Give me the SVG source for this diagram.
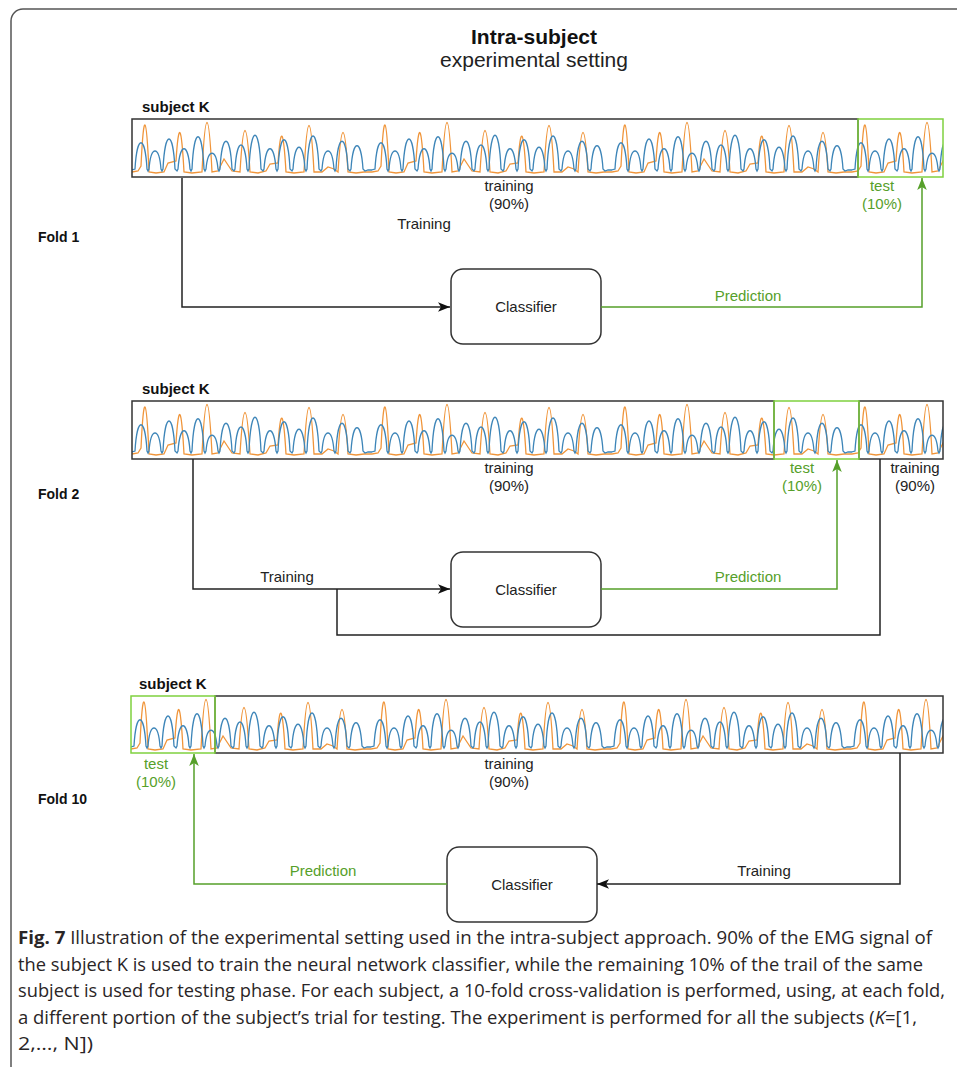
<svg xmlns="http://www.w3.org/2000/svg" width="957" height="1067" viewBox="0 0 957 1067">
<style>
.lbl{font-family:"Liberation Sans",Arial,sans-serif;font-size:15px;fill:#222;text-anchor:middle}
.g{fill:#56a02a}
.bold{font-family:"Liberation Sans",Arial,sans-serif;font-size:15px;font-weight:bold;fill:#111}
.fold{font-family:"Liberation Sans",Arial,sans-serif;font-size:14px;font-weight:bold;fill:#111}
.strip{stroke:#333;stroke-width:1.5;fill:none}
.test{stroke:#7fd13f;stroke-width:1.5;fill:none}
.cls{fill:#fff;stroke:#333;stroke-width:1.5}
.k{fill:none;stroke:#222;stroke-width:1.5}
.gl{fill:none;stroke:#56a02a;stroke-width:1.5}
.cap{font-family:"Open Sans","Noto Sans",sans-serif;font-size:17.5px;fill:#2a2526}
</style>
<defs>
<pattern id="emg" patternUnits="userSpaceOnUse" x="0" y="0" width="240" height="58">
<path d="M0,53 L6,52 L9,47 Q13,-38 17,53 L24,54 L32,53 L36,44 L44,42 Q48,-20 52,53 L60,54 L70,53 Q75,-46 80,53 L86,52 L92,40 L96,46 L100,52 L108,53 Q113,-30 118,53 L126,54 L134,52 L138,45 L146,44 Q150,-14 154,53 L162,54 L172,53 Q177,-40 182,53 L190,53 L196,48 L202,50 L206,53 Q211,-26 216,53 L224,54 L232,53 L240,53" fill="none" stroke="#f0953a" stroke-width="1.3"/>
<path d="M0,51 L3,50 C5,15 13,15 15,50 L16,52 L17,50 C19,26 27,26 29,50 L30,52 L31,50 C33,10 41,10 43,50 L45,52 L46,50 C48,23 56,23 58,50 L59,52 L60,50 C62,7 70,7 72,50 L73,52 L74,50 C76,29 84,29 86,50 L87,52 L88,50 C90,13 98,13 100,50 L102,52 L103,50 C105,18 113,18 115,50 L116,52 L117,50 C119,5 127,5 129,50 L131,52 L132,50 C134,23 142,23 144,50 L145,52 L146,50 C148,11 156,11 158,50 L160,52 L161,50 C163,21 171,21 173,50 L174,52 L175,50 C177,6 185,6 187,50 L189,52 L190,50 C192,26 200,26 202,50 L203,52 L204,50 C206,13 214,13 216,50 L218,52 L219,50 C221,19 229,19 231,50 L233,52 L236,51 L240,51" fill="none" stroke="#3d85b8" stroke-width="1.3"/>
</pattern>
<marker id="ak" viewBox="0 0 10 8" refX="10" refY="4" markerWidth="12" markerHeight="10" markerUnits="userSpaceOnUse" orient="auto"><path d="M0,0 L10,4 L0,8 L2.5,4 Z" fill="#111"/></marker>
<marker id="ag" viewBox="0 0 10 8" refX="10" refY="4" markerWidth="12" markerHeight="10" markerUnits="userSpaceOnUse" orient="auto"><path d="M0,0 L10,4 L0,8 L2.5,4 Z" fill="#56a02a"/></marker>
</defs>
<rect x="0" y="0" width="957" height="1067" fill="#fff"/>
<rect id="frame" x="11" y="9" width="980" height="1100" rx="12" fill="none" stroke="#555" stroke-width="1.5"/>

<g id="title">
<text x="534" y="44" text-anchor="middle" font-family="Liberation Sans,Arial,sans-serif" font-size="21" font-weight="bold" fill="#111">Intra-subject</text>
<text x="534" y="67" text-anchor="middle" font-family="Liberation Sans,Arial,sans-serif" font-size="21" fill="#222">experimental setting</text>
</g>

<!-- Fold 1 -->
<g id="fold1-strip">
<text class="bold" x="142" y="112">subject K</text>
<g transform="translate(132,119)"><rect x="0" y="0" width="811" height="58" fill="url(#emg)"/></g>
<rect class="strip" x="132" y="119" width="726" height="58"/>
<rect class="test" x="858" y="119" width="85" height="58"/>
<text class="lbl" x="509" y="191">training</text>
<text class="lbl" x="509" y="209">(90%)</text>
<text class="lbl g" x="882" y="191">test</text>
<text class="lbl g" x="882" y="209">(10%)</text>
<text class="fold" x="38" y="242">Fold 1</text>
</g>
<g id="fold1-classifier">
<rect class="cls" x="451" y="269" width="150" height="75" rx="12"/>
<text class="lbl" x="526" y="312">Classifier</text>
</g>

<!-- Fold 2 -->
<g id="fold2-strip">
<text class="bold" x="142" y="394">subject K</text>
<g transform="translate(132,401)"><rect x="0" y="0" width="811" height="58" fill="url(#emg)"/></g>
<rect class="strip" x="132" y="401" width="642" height="58"/>
<rect class="strip" x="859" y="401" width="84" height="58"/>
<rect class="test" x="774" y="401" width="85" height="58"/>
<text class="lbl" x="509" y="473">training</text>
<text class="lbl" x="509" y="491">(90%)</text>
<text class="lbl g" x="802" y="473">test</text>
<text class="lbl g" x="802" y="491">(10%)</text>
<text class="lbl" x="915" y="473">training</text>
<text class="lbl" x="915" y="491">(90%)</text>
<text class="fold" x="38" y="499">Fold 2</text>
</g>
<g id="fold2-classifier">
<rect class="cls" x="451" y="552" width="150" height="75" rx="12"/>
<text class="lbl" x="526" y="595">Classifier</text>
</g>

<!-- Fold 10 -->
<g id="fold10-strip">
<text class="bold" x="139" y="689">subject K</text>
<g transform="translate(131,696)"><rect x="0" y="0" width="812" height="57" fill="url(#emg)"/></g>
<rect class="strip" x="215" y="696" width="728" height="57"/>
<rect class="test" x="131" y="696" width="84" height="57"/>
<text class="lbl g" x="156" y="769">test</text>
<text class="lbl g" x="156" y="787">(10%)</text>
<text class="lbl" x="509" y="769">training</text>
<text class="lbl" x="509" y="787">(90%)</text>
<text class="fold" x="38" y="804">Fold 10</text>
</g>
<g id="fold10-classifier">
<rect class="cls" x="447" y="847" width="150" height="75" rx="12"/>
<text class="lbl" x="522" y="890">Classifier</text>
</g>

<g id="connectors">
<path class="k" d="M182,178 V307 H450" marker-end="url(#ak)"/>
<path class="gl" d="M601,307 H922 V178" marker-end="url(#ag)"/>
<text class="lbl" x="424" y="229">Training</text>
<text class="lbl g" x="748" y="301">Prediction</text>

<path class="k" d="M193,459 V589 H450" marker-end="url(#ak)"/>
<path class="k" d="M880,459 V635 H337 V589"/>
<path class="gl" d="M601,589 H837 V460" marker-end="url(#ag)"/>
<text class="lbl" x="287" y="582">Training</text>
<text class="lbl g" x="748" y="582">Prediction</text>

<path class="k" d="M900,753 V884 H597" marker-end="url(#ak)"/>
<path class="gl" d="M447,884 H194 V754" marker-end="url(#ag)"/>
<text class="lbl" x="764" y="876">Training</text>
<text class="lbl g" x="323" y="876">Prediction</text>
</g>

<g id="caption">
<text class="cap" x="18" y="944" textLength="914" lengthAdjust="spacingAndGlyphs"><tspan font-weight="bold">Fig. 7</tspan>  Illustration of the experimental setting used in the intra-subject approach. 90% of the EMG signal of</text>
<text class="cap" x="18" y="971" textLength="905" lengthAdjust="spacingAndGlyphs">the subject K is used to train the neural network classifier, while the remaining 10% of the trail of the same</text>
<text class="cap" x="18" y="997" textLength="927" lengthAdjust="spacingAndGlyphs">subject is used for testing phase. For each subject, a 10-fold cross-validation is performed, using, at each fold,</text>
<text class="cap" x="18" y="1024" textLength="899" lengthAdjust="spacingAndGlyphs">a different portion of the subject’s trial for testing. The experiment is performed for all the subjects (<tspan font-style="italic">K</tspan>=[1,</text>
<text class="cap" x="18" y="1050" textLength="75" lengthAdjust="spacingAndGlyphs">2,…, N])</text>
</g>
</svg>
